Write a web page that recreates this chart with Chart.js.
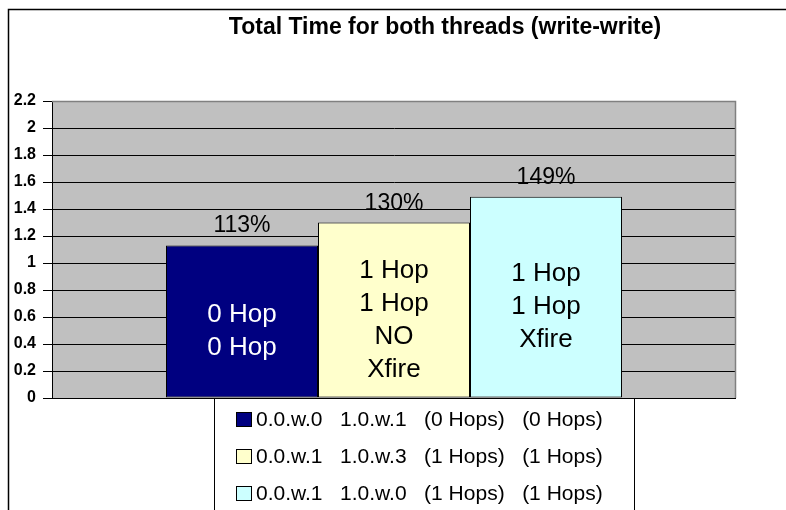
<!DOCTYPE html>
<html>
<head>
<meta charset="utf-8">
<script src="https://cdn.jsdelivr.net/npm/chart.js@4/dist/chart.umd.min.js"></script>
<style>
  html, body { margin: 0; padding: 0; background: #ffffff; }
  canvas { display: block; }
</style>
</head>
<body>
<canvas id="c" width="786" height="510"></canvas>
<script>
const TITLE = 'Total Time for both threads (write-write)';
const categories = [''];
const seriesNames = [
  '0.0.w.0   1.0.w.1   (0 Hops)   (0 Hops)',
  '0.0.w.1   1.0.w.3   (1 Hops)   (1 Hops)',
  '0.0.w.1   1.0.w.0   (1 Hops)   (1 Hops)'
];
const seriesA = [1.13];
const seriesB = [1.30];
const seriesC = [1.49];
const pctLabels = ['113%', '130%', '149%'];
const barTexts = [
  ['0 Hop', '0 Hop'],
  ['1 Hop', '1 Hop', 'NO', 'Xfire'],
  ['1 Hop', '1 Hop', 'Xfire']
];
const yTickLabels = ['0', '0.2', '0.4', '0.6', '0.8', '1', '1.2', '1.4', '1.6', '1.8', '2', '2.2'];

const FONT = '"Liberation Sans", Arial, sans-serif';
const colors = ['#000080', '#FFFFCC', '#CCFFFF'];
const textColors = ['#FFFFFF', '#000000', '#000000'];

const decor = {
  id: 'decor',
  beforeDraw(chart) {
    const ctx = chart.ctx;
    const a = chart.chartArea;
    ctx.save();
    ctx.fillStyle = '#ffffff';
    ctx.fillRect(0, 0, chart.width, chart.height);
    ctx.strokeStyle = '#000000';
    ctx.lineWidth = 1.5;
    ctx.strokeRect(8.5, 9.5, 900, 700);
    ctx.fillStyle = '#C0C0C0';
    ctx.fillRect(a.left, a.top, a.right - a.left, a.bottom - a.top);
    ctx.restore();
  },
  afterDraw(chart) {
    const ctx = chart.ctx;
    const a = chart.chartArea;
    ctx.save();
    // plot border top/right
    ctx.strokeStyle = '#808080';
    ctx.lineWidth = 1.5;
    ctx.beginPath();
    ctx.moveTo(a.left, Math.round(a.top) + 0.5);
    ctx.lineTo(Math.round(a.right) - 0.5, Math.round(a.top) + 0.5);
    ctx.lineTo(Math.round(a.right) - 0.5, a.bottom);
    ctx.stroke();

    // labels on bars
    chart.data.datasets.forEach((ds, i) => {
      const meta = chart.getDatasetMeta(i);
      meta.data.forEach((el) => {
        ctx.fillStyle = '#000000';
        ctx.font = '23px ' + FONT;
        ctx.textAlign = 'center';
        ctx.textBaseline = 'alphabetic';
        ctx.fillText(pctLabels[i], el.x, el.y - 13);
        const lines = barTexts[i];
        const lh = 33;
        const mid = (el.y + el.base) / 2 + 10;
        ctx.font = '26px ' + FONT;
        ctx.fillStyle = textColors[i];
        ctx.textBaseline = 'middle';
        lines.forEach((t, k) => {
          const y = mid + (k - (lines.length - 1) / 2) * lh;
          ctx.fillText(t, el.x, y);
        });
      });
    });

    // legend
    ctx.strokeStyle = '#000000';
    ctx.lineWidth = 1;
    ctx.strokeRect(214.5, 398.5, 420, 300);
    ctx.font = '21px ' + FONT;
    ctx.textAlign = 'left';
    ctx.textBaseline = 'alphabetic';
    chart.data.datasets.forEach((ds, i) => {
      const sy = 412 + 37 * i;
      ctx.fillStyle = ds.backgroundColor;
      ctx.fillRect(236, sy, 16, 15);
      ctx.strokeStyle = '#000000';
      ctx.strokeRect(236.5, sy + 0.5, 15, 14);
      ctx.fillStyle = '#000000';
      ctx.fillText(ds.label, 256, 426 + 37 * i);
    });

    // title
    ctx.font = 'bold 23px ' + FONT;
    ctx.textAlign = 'center';
    ctx.fillStyle = '#000000';
    ctx.fillText(TITLE, 445, 34);
    ctx.restore();
  }
};

new Chart(document.getElementById('c'), {
  type: 'bar',
  data: {
    labels: categories,
    datasets: [
      { label: seriesNames[0], data: seriesA, backgroundColor: colors[0] },
      { label: seriesNames[1], data: seriesB, backgroundColor: colors[1] },
      { label: seriesNames[2], data: seriesC, backgroundColor: colors[2] }
    ].map(d => Object.assign(d, {
      borderColor: '#000000',
      borderWidth: 1,
      borderSkipped: false,
      categoryPercentage: 0.6667,
      barPercentage: 1.0
    }))
  },
  options: {
    responsive: false,
    devicePixelRatio: 1,
    animation: false,
    layout: { padding: { left: 0, right: 50, top: 101, bottom: 112 } },
    plugins: {
      legend: { display: false },
      title: { display: false },
      tooltip: { enabled: false }
    },
    scales: {
      x: { display: false },
      y: {
        min: 0,
        max: 2.2,
        ticks: {
          stepSize: 0.2,
          padding: 7,
          color: '#000000',
          font: { family: FONT, size: 16, weight: 'bold' },
          callback: (v, idx) => yTickLabels[idx]
        },
        grid: { color: '#000000', lineWidth: 1, tickLength: 9, drawTicks: true },
        border: { display: true, color: '#000000', width: 1 },
        afterFit: (s) => { s.width = 52; }
      }
    }
  },
  plugins: [decor]
});
</script>
</body>
</html>
